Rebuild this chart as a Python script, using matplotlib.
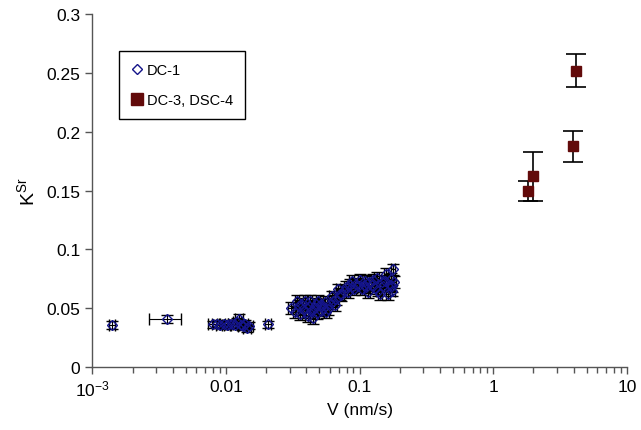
import numpy as np
import matplotlib
matplotlib.use("Agg")
import matplotlib.pyplot as plt
from matplotlib.lines import Line2D
from matplotlib.ticker import FixedLocator, FixedFormatter, LogLocator, NullFormatter

plt.rcParams["font.family"] = ["Liberation Sans", "DejaVu Sans"]
plt.rcParams["mathtext.fontset"] = "custom"
plt.rcParams["mathtext.rm"] = "Liberation Sans"
plt.rcParams["mathtext.it"] = "Liberation Sans"

# DC-1, slow runs: velocity, K, and their errors
dc1_slow_v = [0.00140, 0.00364, 0.0080, 0.0085, 0.0090, 0.0096, 0.0101, 0.0106, 0.0111,
              0.0117, 0.0121, 0.0126, 0.0129, 0.0133, 0.0138, 0.0143, 0.0148, 0.0207]
dc1_slow_k = [0.0360, 0.0410, 0.0365, 0.0370, 0.0360, 0.0365, 0.0355, 0.0370, 0.0365,
              0.0360, 0.0385, 0.0410, 0.0360, 0.0345, 0.0370, 0.0330, 0.0350, 0.0365]
dc1_slow_verr = [0.00007, 0.00100, 0.0006, 0.0006, 0.0006, 0.0007, 0.0007, 0.0007, 0.0008,
                 0.0008, 0.0008, 0.0009, 0.0009, 0.0009, 0.0009, 0.0010, 0.0010, 0.0012]
dc1_slow_kerr = [0.0035, 0.0035, 0.003, 0.003, 0.003, 0.003, 0.003, 0.003, 0.003,
                 0.003, 0.003, 0.004, 0.003, 0.003, 0.003, 0.003, 0.003, 0.003]

# DC-1, faster runs
dc1_fast_v = [0.0306, 0.0330, 0.0340, 0.0350, 0.0358, 0.0365, 0.0375, 0.0390, 0.0395, 0.0410,
              0.0415, 0.0425, 0.0435, 0.0445, 0.0460, 0.0470, 0.0480, 0.0490, 0.0503, 0.0510,
              0.0520, 0.0535, 0.0550, 0.0565, 0.0580, 0.0600, 0.0620, 0.0635, 0.0650, 0.0670,
              0.0690, 0.0710, 0.0730, 0.0760, 0.0790, 0.0820, 0.0850, 0.0870, 0.0880, 0.0910,
              0.0940, 0.0980, 0.1010, 0.1040, 0.1070, 0.1090, 0.1120, 0.1150, 0.1180, 0.1230,
              0.1270, 0.1300, 0.1340, 0.1380, 0.1420, 0.1460, 0.1500, 0.1550, 0.1580, 0.1630,
              0.1680, 0.1720, 0.1740, 0.1760, 0.1780, 0.1800]
dc1_fast_k = [0.0504, 0.0470, 0.0560, 0.0520, 0.0450, 0.0540, 0.0490, 0.0560, 0.0470, 0.0436,
              0.0520, 0.0560, 0.0480, 0.0420, 0.0500, 0.0540, 0.0460, 0.0560, 0.0530, 0.0480,
              0.0530, 0.0500, 0.0550, 0.0470, 0.0490, 0.0540, 0.0600, 0.0560, 0.0530, 0.0580,
              0.0660, 0.0620, 0.0610, 0.0650, 0.0680, 0.0640, 0.0700, 0.0730, 0.0680, 0.0660,
              0.0710, 0.0690, 0.0740, 0.0660, 0.0700, 0.0730, 0.0680, 0.0640, 0.0720, 0.0700,
              0.0740, 0.0670, 0.0760, 0.0650, 0.0620, 0.0720, 0.0690, 0.0730, 0.0790, 0.0620,
              0.0700, 0.0750, 0.0690, 0.0650, 0.0830, 0.0720]
dc1_fast_vrel = 0.04
dc1_fast_kerr = 0.005

# DC-3 and DSC-4
dc3_v = [1.81, 1.99, 3.96, 4.15]
dc3_k = [0.1498, 0.1620, 0.1875, 0.2518]
dc3_kerr = [0.0085, 0.021, 0.013, 0.014]

navy = "#14148a"
maroon = "#620a0a"

fig = plt.figure(figsize=(6.41, 4.31), dpi=100)
ax = fig.add_axes([0.144, 0.146, 0.834, 0.819])

dc1_style = dict(fmt="D", ms=5, mfc="none", mec=navy, mew=1.0, ecolor="black",
                 elinewidth=0.8, capsize=4, capthick=0.8)
ax.errorbar(dc1_slow_v, dc1_slow_k, xerr=dc1_slow_verr, yerr=dc1_slow_kerr, **dc1_style)
fast_v = np.array(dc1_fast_v)
ax.errorbar(fast_v, dc1_fast_k, xerr=fast_v * dc1_fast_vrel, yerr=dc1_fast_kerr, **dc1_style)
ax.errorbar(dc3_v, dc3_k, yerr=dc3_kerr, fmt="s", ms=7.5, mfc=maroon, mec=maroon,
            ecolor="black", elinewidth=1.2, capsize=7, capthick=1.2, zorder=3)

ax.set_xscale("log")
ax.set_xlim(1e-3, 10)
ax.set_ylim(0, 0.3)

ax.xaxis.set_major_locator(FixedLocator([1e-3, 1e-2, 1e-1, 1, 10]))
ax.xaxis.set_major_formatter(FixedFormatter([r"$10^{-3}$", "0.01", "0.1", "1", "10"]))
ax.xaxis.set_minor_locator(LogLocator(base=10, subs=np.arange(2, 10)))
ax.xaxis.set_minor_formatter(NullFormatter())
ax.set_yticks([0, 0.05, 0.1, 0.15, 0.2, 0.25, 0.3])
ax.set_yticklabels(["0", "0.05", "0.1", "0.15", "0.2", "0.25", "0.3"])

for side in ("top", "right"):
    ax.spines[side].set_visible(False)
for side in ("left", "bottom"):
    ax.spines[side].set_color("#555555")
    ax.spines[side].set_linewidth(1.0)
ax.tick_params(which="major", direction="out", length=5, width=1, color="#555555",
               labelsize=12.5)
ax.tick_params(which="minor", direction="out", length=4, width=1, color="#555555")

ax.set_xlabel("V (nm/s)", fontsize=12.5, labelpad=2)
ax.set_ylabel(r"K$^{\mathrm{Sr}}$", fontsize=14, labelpad=6)

handles = [
    Line2D([], [], ls="none", marker="D", ms=5, mfc="none", mec=navy, mew=1.0),
    Line2D([], [], ls="none", marker="s", ms=8, mfc=maroon, mec=maroon),
]
leg = ax.legend(handles, ["DC-1", "DC-3, DSC-4"], loc="upper left",
                bbox_to_anchor=(0.05, 0.895), borderaxespad=0, fontsize=10.5,
                frameon=True, fancybox=False, edgecolor="black", framealpha=1,
                handlelength=0.9, handletextpad=0.2, borderpad=0.8, labelspacing=1.1)
leg.get_frame().set_linewidth(1.0)

fig.savefig("out.png", dpi=100)
